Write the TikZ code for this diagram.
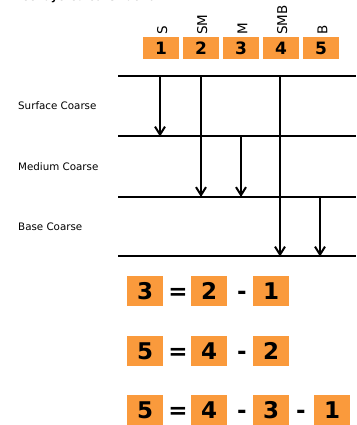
\documentclass[tikz,border=0pt]{standalone}
\usepackage{fontspec}
\setmainfont{DejaVu Sans}
\usetikzlibrary{arrows.meta}
\definecolor{boxorange}{HTML}{FA9A3C}
\tikzset{
  topbox/.style={fill=boxorange, minimum width=36pt, minimum height=22pt, inner sep=0pt,
    font=\fontsize{17}{17}\selectfont\bfseries},
  eqbox/.style={fill=boxorange, minimum width=36pt, minimum height=30pt, inner sep=0pt,
    text height=16.5pt, text depth=0pt,
    font=\fontsize{23}{23}\selectfont\bfseries},
  eqop/.style={inner sep=0pt, text height=16.5pt, text depth=0pt,
    font=\fontsize{23}{23}\selectfont\bfseries},
  collabel/.style={rotate=90, anchor=south west, inner sep=0pt, font=\fontsize{13.5}{13.5}\selectfont},
  layerlabel/.style={anchor=west, inner sep=0pt, font=\fontsize{10.3}{10.3}\selectfont},
  layerline/.style={line width=2pt},
  downarrow/.style={line width=2pt, -{Straight Barb[length=8pt,width=10pt,line width=2pt]}, shorten >=-0.5pt},
}
\begin{document}
\begin{tikzpicture}[x=1pt,y=-1pt]
\useasboundingbox (0,0) rectangle (356,425);
% title (clipped at top, as in the reference)
\node[anchor=base west, inner sep=0pt, font=\fontsize{10.5}{10.5}\selectfont\bfseries] (title) at (2,1) {Three-layered construction:};
% top boxes
\foreach \n/\x/\lab in {1/161/S, 2/201/SM, 3/241/M, 4/281/SMB, 5/321/B}{
  \node[topbox] (b\n) at (\x,48) {\n};
  \node[collabel] (l\n) at (\x+6.5,35) {\lab};
}
% layer lines
\foreach \i/\y in {1/76, 2/136, 3/196.5, 4/256}{
  \coordinate (L\i w) at (118,\y);
  \coordinate (L\i e) at (356,\y);
  \draw[layerline] (L\i w) -- (L\i e);
}
% layer labels
\node[layerlabel] (surf) at (18,106) {Surface Coarse};
\node[layerlabel] (med) at (18,166.5) {Medium Coarse};
\node[layerlabel] (base) at (18,226.5) {Base Coarse};
% arrows
\coordinate (a1s) at (160,76);  \coordinate (a1e) at (160,136);
\coordinate (a2s) at (201,76);  \coordinate (a2e) at (201,196.5);
\coordinate (a3s) at (241,136); \coordinate (a3e) at (241,196.5);
\coordinate (a4s) at (280,76);  \coordinate (a4e) at (280,256);
\coordinate (a5s) at (320,196.5); \coordinate (a5e) at (320,256);
\foreach \k in {1,...,5}{ \draw[downarrow] (a\k s) -- (a\k e); }
% equations
\node[eqbox] (e1a) at (145,291) {3};
\node[eqop]  (e1q) at (178,291) {=};
\node[eqbox] (e1b) at (209,291) {2};
\node[eqop]  (e1m) at (242,291) {-};
\node[eqbox] (e1c) at (271,291) {1};

\node[eqbox] (e2a) at (145,351) {5};
\node[eqop]  (e2q) at (178,351) {=};
\node[eqbox] (e2b) at (209,351) {4};
\node[eqop]  (e2m) at (242,351) {-};
\node[eqbox] (e2c) at (271,351) {2};

\node[eqbox] (e3a) at (145,410) {5};
\node[eqop]  (e3q) at (178,410) {=};
\node[eqbox] (e3b) at (209,410) {4};
\node[eqop]  (e3m) at (242,410) {-};
\node[eqbox] (e3c) at (271,410) {3};
\node[eqop]  (e3n) at (301,410) {-};
\node[eqbox] (e3d) at (332,410) {1};
\end{tikzpicture}
\end{document}
